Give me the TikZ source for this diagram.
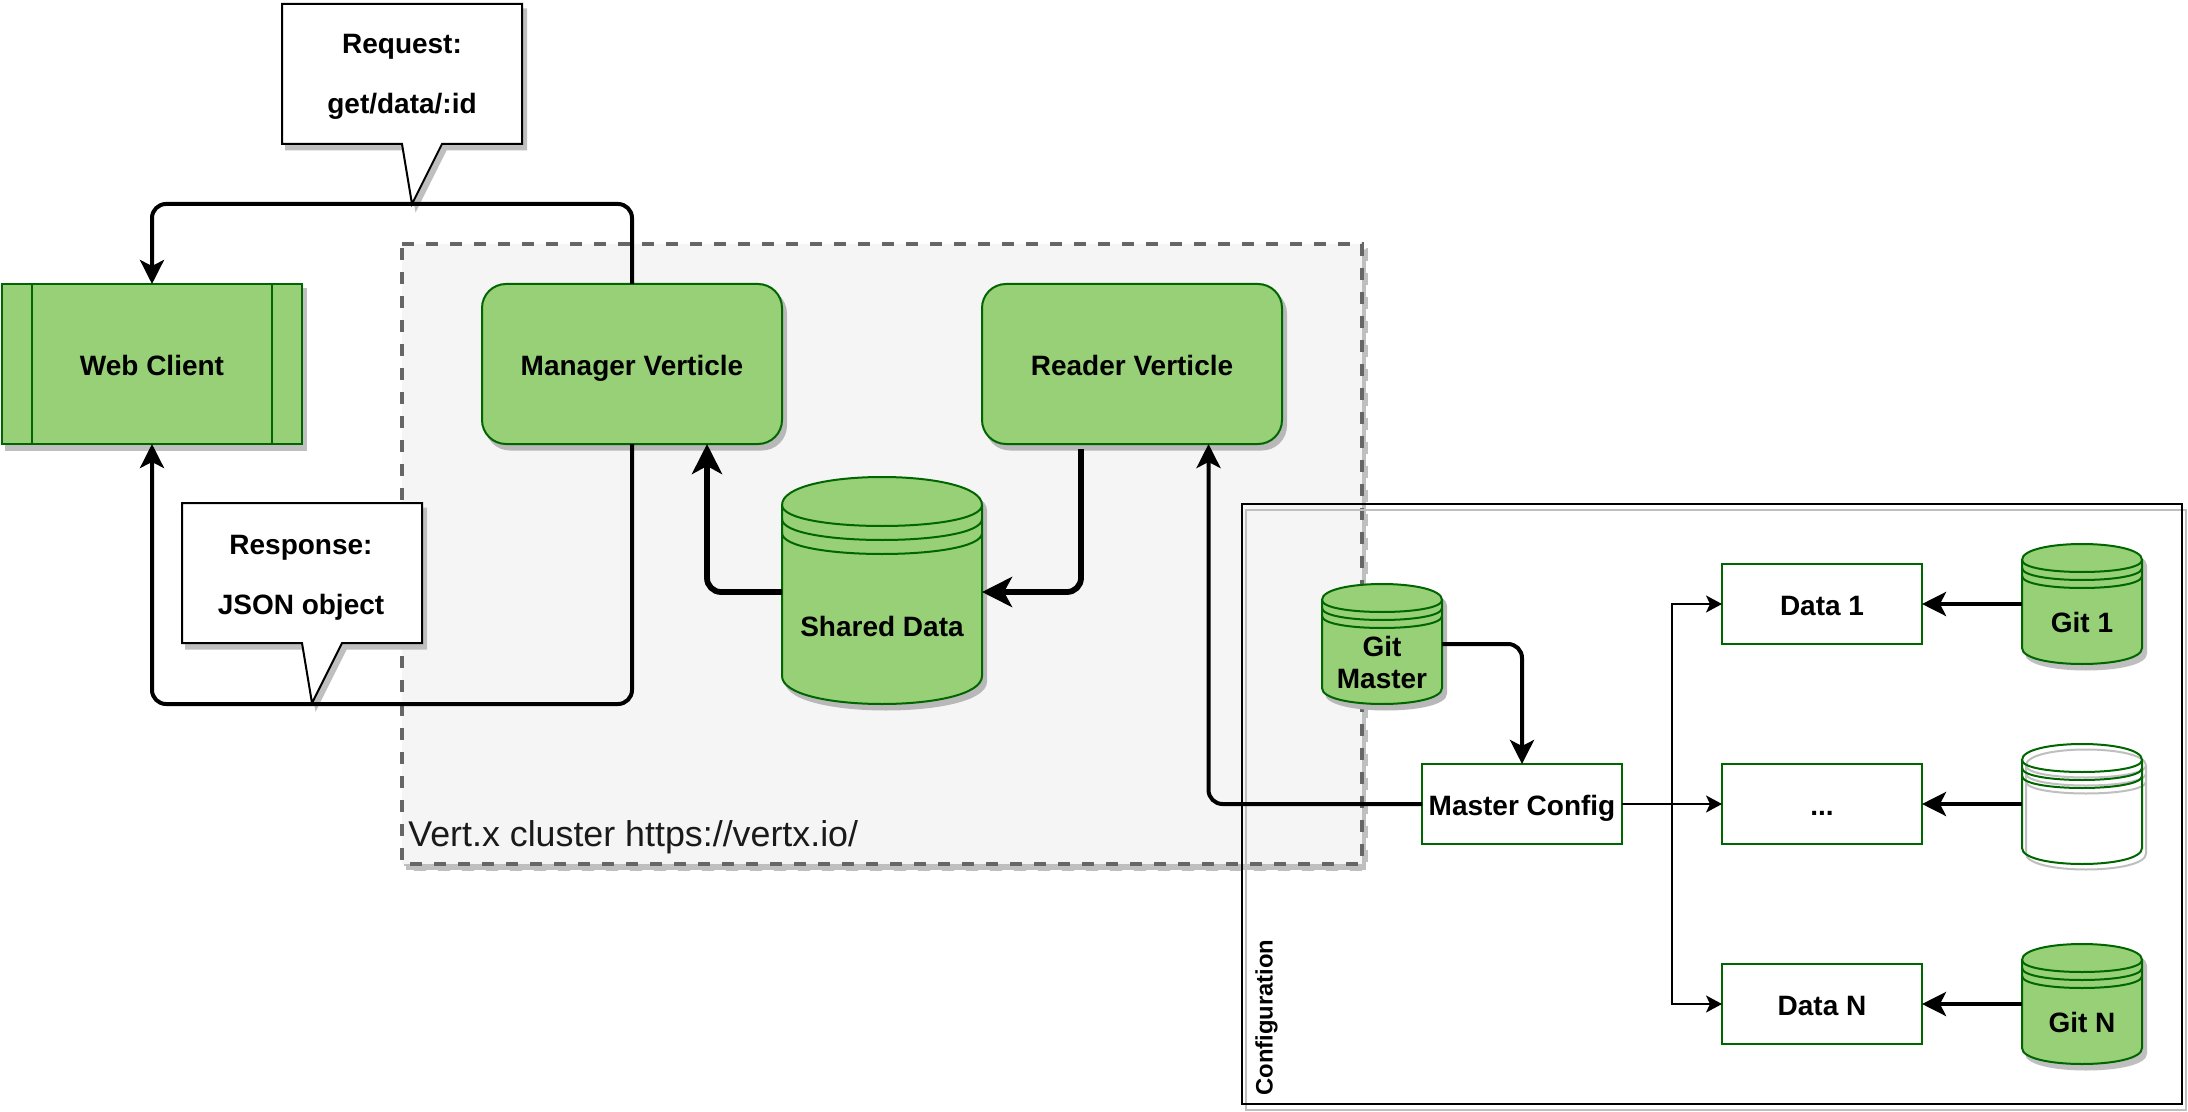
\documentclass[tikz,border=0pt]{standalone}
\usepackage{fontspec}
\setmainfont{Liberation Sans}
\usetikzlibrary{arrows.meta,calc,shadows,backgrounds}
\definecolor{gfill}{HTML}{97D077}
\definecolor{gline}{HTML}{006600}
\definecolor{sg}{HTML}{BFBFBF}
\definecolor{sgd}{HTML}{B8B8B8}
\definecolor{clfill}{HTML}{F5F5F5}
\definecolor{clline}{HTML}{666666}
\definecolor{cltext}{HTML}{1A1A1A}
\pgfdeclarelayer{back}
\pgfsetlayers{back,main}
% style, x, y, w, h, dy
\newcommand\storeshape[6]{%
  \draw[#1] (#2,#3+#6) .. controls (#2,#3-#6/3) and (#2+#4,#3-#6/3) .. (#2+#4,#3+#6)
    -- (#2+#4,#3+#5-#6) .. controls (#2+#4,#3+#5+#6/3) and (#2,#3+#5+#6/3) .. (#2,#3+#5-#6) -- cycle;
  \draw[#1,fill=none] (#2,#3+#6) .. controls (#2,#3+2*#6) and (#2+#4,#3+2*#6) .. (#2+#4,#3+#6)
    (#2,#3+1.5*#6) .. controls (#2,#3+2.5*#6) and (#2+#4,#3+2.5*#6) .. (#2+#4,#3+1.5*#6)
    (#2,#3+2*#6) .. controls (#2,#3+3*#6) and (#2+#4,#3+3*#6) .. (#2+#4,#3+2*#6);
}
\tikzset{
  x=.5pt,y=-.5pt,
  txt/.style={font=\fontsize{14pt}{16pt}\selectfont\bfseries,text=black,inner sep=0pt,outer sep=0pt,align=center},
  boxbase/.style={txt,rectangle,line width=1pt,minimum width=#1,text height=11pt,text depth=0pt},
  shad/.style={general shadow={fill=#1,draw=#1,line width=1pt,shadow xshift=2pt,shadow yshift=-2.75pt}},
  greenbox/.style={boxbase=150pt,minimum height=80pt,draw=gline,fill=gfill,text height=12pt},
  vertbox/.style={greenbox,rounded corners=12pt},
  databox/.style={boxbase=100pt,minimum height=40pt,draw=gline,fill=white},
  storeanchor/.style={txt,rectangle,minimum width=#1,minimum height=60pt,text depth=0pt},
  storefill/.style={line width=1pt,draw=gline,fill=gfill},
  storeempty/.style={line width=1pt,draw=gline,fill=none},
  storesh/.style={line width=1pt,draw=#1,fill=#1,shift={(4,5.5)}},
  storeshline/.style={line width=1pt,draw=sg,fill=none,shift={(4,5.5)}},
  callout/.style={line width=1pt,draw=black,fill=white,line join=miter,shad=sg},
  calltxt/.style={txt,font=\fontsize{14pt}{30pt}\selectfont\bfseries,text height=30pt,text depth=0pt},
  thinc/.style={line width=1pt,-{Stealth[length=8pt,width=8.5pt,inset=2pt]}},
  medc/.style={line width=2pt,rounded corners=7pt,-{Stealth[length=12pt,width=12pt,inset=3pt]}},
  heavyc/.style={line width=2.9pt,rounded corners=7pt,-{Stealth[length=15pt,width=15pt,inset=4pt]}},
  clusterline/.style={draw=clline,line width=1.6pt,dash pattern=on 6pt off 6pt}
}
\begin{document}
\begin{tikzpicture}
\useasboundingbox (0,0) rectangle (2188,1112);
\begin{pgfonlayer}{back}
  \fill[white] (0,0) rectangle (2188,1112);
  % cluster
  \fill[sg] (406,250) rectangle (1366,869.5);
  \draw[clusterline,draw=sg] (406,249.5) -- (1366,249.5) -- (1366,869.5) -- (406,869.5) -- cycle;
  \node[rectangle,fill=clfill,inner sep=0pt,outer sep=0pt,minimum width=480pt,minimum height=310pt] (cluster) at (882,554) {};
  \draw[clusterline] (cluster.north west) -- (cluster.north east) -- (cluster.south east) -- (cluster.south west) -- cycle;
  \node[font=\fontsize{17.9pt}{20pt}\selectfont,text=cltext,inner sep=0pt,anchor=base west] (clusterlabel) at (408,846) {Vert.x cluster https://vertx.io/};
  % configuration frame
  \node[rectangle,draw=black,line width=1pt,fill=none,inner sep=0pt,outer sep=0pt,minimum width=470pt,minimum height=300pt,
        general shadow={draw=sg,fill=none,line width=1pt,shadow xshift=2pt,shadow yshift=-2.75pt}] (config) at (1712,804) {};
  \node[font=\fontsize{11.9pt}{14pt}\selectfont\bfseries,inner sep=0pt,rotate=90,anchor=base west] (configlabel) at (1272.5,1096) {Configuration};
\end{pgfonlayer}

% callouts
\draw[callout] (282,4) -- (522,4) -- (522,144) -- (442,144) -- (412,204) -- (402,144) -- (282,144) -- cycle;
\node[calltxt] (reqtext) at (402,84) {Request:\\get/data/:id};
\draw[callout] (182,503) -- (422,503) -- (422,643) -- (342,643) -- (312,703) -- (302,643) -- (182,643) -- cycle;
\node[calltxt] (resptext) at (301,584) {Response:\\JSON object};
\coordinate (reqtip) at (412,204);
\coordinate (resptip) at (312,704);

% main boxes
\node[greenbox,shad=sg] (web) at (152,364) {Web Client};
\draw[line width=1pt,draw=gline] (web.north west) ++(30,0) -- ++(0,160);
\draw[line width=1pt,draw=gline] (web.north east) ++(-30,0) -- ++(0,160);
\node[vertbox,shad=sgd] (manager) at (632,364) {Manager Verticle};
\node[vertbox,shad=sgd] (reader) at (1132,364) {Reader Verticle};

% shared data
\storeshape{storesh=sgd}{782}{477}{200}{227}{28}
\storeshape{storefill}{782}{477}{200}{227}{28}
\node[storeanchor=100pt,minimum height=112pt,text height=44pt] (shared) at (882,592) {Shared Data};

% git master
\storeshape{storesh=sgd}{1322}{584}{120}{120}{16}
\storeshape{storefill}{1322}{584}{120}{120}{16}
\node[storeanchor=60pt,text height=44pt] (gitmaster) at (1382,644) {Git\\Master};

% data boxes
\node[databox] (mconfig) at (1522,804) {Master Config};
\node[databox] (data1) at (1822,604) {Data 1};
\node[databox] (datadots) at (1822,804) {...};
\node[databox] (datan) at (1822,1004) {Data N};

% git repositories
\storeshape{storesh=sg}{2022}{544}{120}{120}{16}
\storeshape{storefill}{2022}{544}{120}{120}{16}
\node[storeanchor=60pt,text height=28pt] (git1) at (2082,604) {Git 1};
\storeshape{storeshline}{2022}{744}{120}{120}{16}
\storeshape{storeempty}{2022}{744}{120}{120}{16}
\node[storeanchor=60pt,text height=28pt] (gitdots) at (2082,804) {};
\storeshape{storesh=sg}{2022}{944}{120}{120}{16}
\storeshape{storefill}{2022}{944}{120}{120}{16}
\node[storeanchor=60pt,text height=28pt] (gitn) at (2082,1004) {Git N};

% connectors
\draw[heavyc] ($(reader.south west)!.33!(reader.south east)+(0,5)$) |- (shared.east);
\draw[medc] (manager.north) |- (reqtip) -| (web.north);
\draw[medc] (manager.south) |- (resptip) -| (web.south);
\draw[heavyc] (shared.west) -| ($(manager.south west)!.75!(manager.south east)$);
\draw[medc] (gitmaster.east) -| (mconfig.north);
\draw[medc] (mconfig.west) -| ($(reader.south west)!.755!(reader.south east)$);
\draw[thinc] (mconfig.east) -- ++(50,0) |- (data1.west);
\draw[thinc] (mconfig.east) -- (datadots.west);
\draw[thinc] (mconfig.east) -- ++(50,0) |- (datan.west);
\draw[medc] (git1.west) -- (data1.east);
\draw[medc] (gitdots.west) -- (datadots.east);
\draw[medc] (gitn.west) -- (datan.east);
\end{tikzpicture}
\end{document}
